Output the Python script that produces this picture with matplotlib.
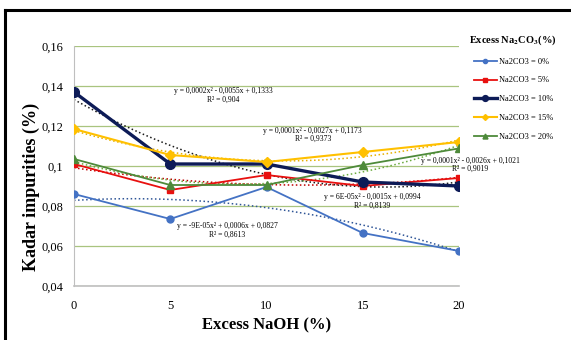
import numpy as np
import matplotlib
matplotlib.use("Agg")
import matplotlib.pyplot as plt
from matplotlib.lines import Line2D
from matplotlib.ticker import FuncFormatter

plt.rcParams['font.family'] = ['Liberation Serif', 'DejaVu Serif']
plt.rcParams['mathtext.fontset'] = 'stix'

naoh = [0, 5, 10, 15, 20]
labels = ['Na2CO3 = 0%', 'Na2CO3 = 5%', 'Na2CO3 = 10%', 'Na2CO3 = 15%', 'Na2CO3 = 20%']
imp_0 = [0.086, 0.0735, 0.0895, 0.0665, 0.0575]
imp_5 = [0.101, 0.088, 0.0955, 0.090, 0.094]
imp_10 = [0.137, 0.101, 0.101, 0.092, 0.090]
imp_15 = [0.1185, 0.1055, 0.102, 0.107, 0.112]
imp_20 = [0.1035, 0.0905, 0.0905, 0.1005, 0.1088]

eq_text = [
    ('y = -9E-05x² + 0,0006x + 0,0827', 'R² = 0,8613'),
    ('y = 6E-05x² - 0,0015x + 0,0994', 'R² = 0,8139'),
    ('y = 0,0002x² - 0,0055x + 0,1333', 'R² = 0,904'),
    ('y = 0,0001x² - 0,0027x + 0,1173', 'R² = 0,9373'),
    ('y = 0,0001x² - 0,0026x + 0,1021', 'R² = 0,9019'),
]
eq_pos = [(7.95, 0.0678), (15.5, 0.0823), (7.74, 0.1353), (12.4, 0.1155), (20.57, 0.1005)]

series = [imp_0, imp_5, imp_10, imp_15, imp_20]
colors = ['#4472C4', '#E8100F', '#0D1B57', '#FFC000', '#4E8A3A']
trend_colors = ['#2F5597', '#C00000', '#1a1a1a', '#E6B000', '#6BAA3E']
markers = ['o', 's', 'o', 'D', '^']
msizes = [5, 5, 7, 5, 6]
lwidths = [1.3, 1.3, 2.4, 1.5, 1.3]

fig = plt.figure(figsize=(5.71, 3.40), dpi=100)
ax = fig.add_axes([74 / 571, 54 / 340, 385 / 571, 240 / 340])

xs = np.linspace(0, 20, 200)
for i, ys in enumerate(series):
    coef = np.polyfit(naoh, ys, 2)
    ax.plot(xs, np.polyval(coef, xs), ':', color=trend_colors[i], lw=1.1, zorder=2)
for i, ys in enumerate(series):
    ax.plot(naoh, ys, color=colors[i], marker=markers[i], ms=msizes[i],
            lw=lwidths[i], label=labels[i], zorder=3)

for (eq, r2), (x, y) in zip(eq_text, eq_pos):
    ax.text(x, y, eq + '\n' + r2, fontsize=5.5, ha='center', va='center',
            linespacing=1.05, zorder=4)

ax.set_xlim(0, 20)
ax.set_ylim(0.04, 0.16)
ax.set_xticks(naoh)
ax.set_yticks(np.arange(0.04, 0.1601, 0.02))
ax.yaxis.set_major_formatter(FuncFormatter(lambda v, p: ('%g' % round(v, 2)).replace('.', ',')))
ax.grid(axis='y', color='#A9C47F', lw=0.9)
ax.set_axisbelow(True)
for s in ['top', 'right']:
    ax.spines[s].set_visible(False)
ax.spines['left'].set_color('#BFBFBF')
ax.spines['bottom'].set_color('#BFBFBF')
ax.spines['bottom'].set_linewidth(1.2)
ax.tick_params(length=0, labelsize=9, pad=8)
ax.tick_params(axis='x', pad=10)

ax.set_xlabel('Excess NaOH (%)', fontsize=12, fontweight='bold', labelpad=4)
ax.set_ylabel('Kadar impurities (%)', fontsize=13, fontweight='bold')
ax.yaxis.set_label_coords(-0.088, 0.4125)

fig.legend(loc='upper left', bbox_to_anchor=(466 / 571, 1 - 30 / 340),
           title='Excess Na$_\\mathbf{2}$CO$_\\mathbf{3}$(%)', fontsize=6,
           title_fontproperties={'weight': 'bold', 'size': 7.5},
           frameon=False, handlelength=2.8, labelspacing=1.3, handletextpad=0.2,
           markerscale=0.6, borderaxespad=0)

# chart frame: only top and left edges are visible in the crop
fig.add_artist(Line2D([5 / 571, 1], [1 - 10 / 340] * 2, transform=fig.transFigure,
                      color='black', lw=2.2))
fig.add_artist(Line2D([5 / 571] * 2, [0, 1 - 10 / 340], transform=fig.transFigure,
                      color='black', lw=2.2))

fig.savefig('out.png', dpi=100)
